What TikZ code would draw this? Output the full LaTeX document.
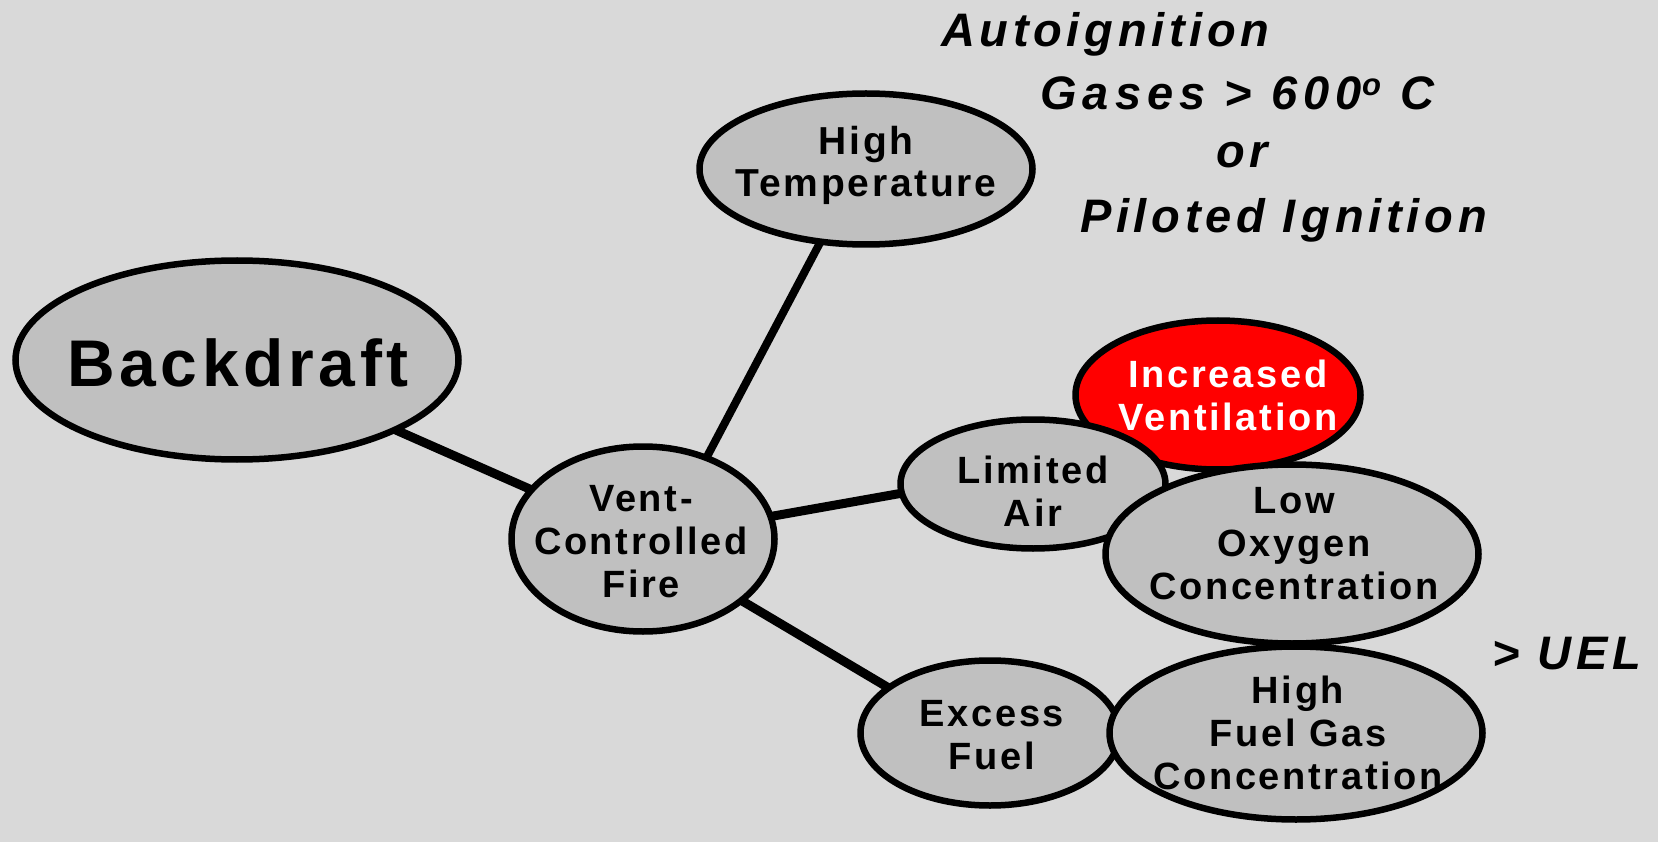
\documentclass[tikz,border=0pt]{standalone}
\usepackage{fontspec}
\setmainfont{Liberation Sans}
\newfontfamily\spaced{Liberation Sans}[LetterSpace=7]
\newfontfamily\spacedit{Liberation Sans}[LetterSpace=10]
\newfontfamily\spaceditw{Liberation Sans}[LetterSpace=13]
\usetikzlibrary{shapes.geometric,backgrounds}
\definecolor{bgc}{RGB}{217,217,217}
\definecolor{fillc}{RGB}{192,192,192}
\definecolor{redc}{RGB}{255,0,0}
\tikzset{
  bub/.style={ellipse, draw=black, line width=6.5pt, fill=fillc, inner sep=0pt, outer sep=0pt},
  lbl/.style={font=\spaced\bfseries\fontsize{38}{43}\selectfont, align=center, inner sep=0pt},
  itl/.style={font=\spacedit\bfseries\itshape\fontsize{47}{50}\selectfont, inner sep=0pt, anchor=base west},
  link/.style={line width=9pt},
  thinlink/.style={line width=8pt}
}
\begin{document}
\begin{tikzpicture}[x=1pt,y=-1pt]
\useasboundingbox (0,0) rectangle (1658,842);
% ellipses (drawing order = stacking order)
\node[bub, minimum width=443pt, minimum height=199pt] (bd) at (237,360) {};
\node[inner sep=0pt, anchor=base, font=\spaced\bfseries\fontsize{66}{70}\selectfont] (bdt) at (238,386) {Backdraft};
\node[bub, minimum width=263pt, minimum height=185pt] (vcf) at (643,539) {};
\node[lbl] (vcft) at (641,542) {Vent-\\Controlled\\Fire};
\node[bub, minimum width=333pt, minimum height=151pt] (ht) at (866,169) {};
\node[lbl, font=\spaced\bfseries\fontsize{39}{42}\selectfont] (htt) at (866,165) {High\\Temperature};
\node[bub, fill=redc, minimum width=285pt, minimum height=149pt] (iv) at (1218,395) {};
\node[lbl, text=white] (ivt) at (1228,395) {Increased\\Ventilation};
\node[bub, minimum width=265pt, minimum height=129pt] (la) at (1033,484) {};
\node[lbl] (lat) at (1033,491) {Limited\\Air};
\node[bub, minimum width=373pt, minimum height=179pt] (lo) at (1292,554) {};
\node[lbl] (lot) at (1294,544) {Low\\Oxygen\\Concentration};
\node[bub, minimum width=259pt, minimum height=145pt] (ef) at (990,733) {};
\node[lbl] (eft) at (992,735) {Excess\\Fuel};
\node[bub, minimum width=373pt, minimum height=173pt] (hf) at (1296,733) {};
\node[lbl] (hft) at (1298,733) {High\\Fuel Gas\\Concentration};
% free labels
\node[itl] (auto) at (941,47) {Autoignition};
\node[itl, font=\spaceditw\bfseries\itshape\fontsize{47}{50}\selectfont] (gas) at (1040,110) {Gases > 600\raisebox{0.3em}{\fontsize{31}{31}\selectfont o} C};
\node[itl] (or) at (1216,168) {or};
\node[itl] (pil) at (1080,233) {Piloted I\kern6pt gnition};
\node[itl] (uel) at (1492,669) {> UEL};
% background and connectors
\begin{scope}[on background layer]
  \fill[bgc] (0,0) rectangle (1658,842);
  \draw[link] (bd) -- (vcf);
  \draw[thinlink] (vcf.52) -- (ht.238);
  \draw[link] (vcf.10) -- (la.184);
  \draw[link] (vcf.-32) -- (ef.156);
\end{scope}
\end{tikzpicture}
\end{document}
